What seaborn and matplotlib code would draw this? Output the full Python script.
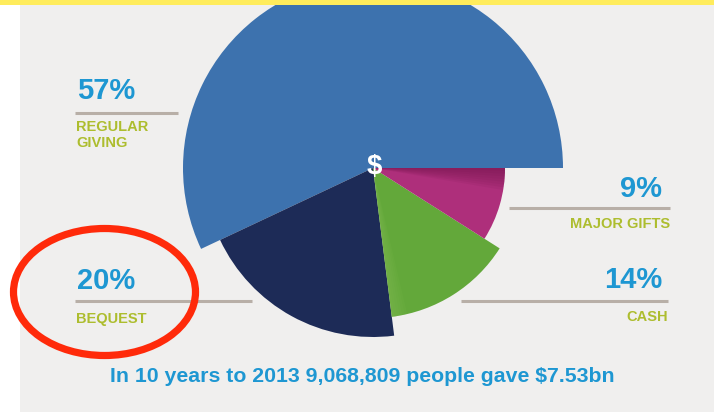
import matplotlib
matplotlib.use("Agg")
import matplotlib.pyplot as plt
from matplotlib.patches import Ellipse, Rectangle, Wedge
import seaborn as sns

# Giving breakdown (percent of total), counter-clockwise from 3 o'clock
categories = ["REGULAR\nGIVING", "BEQUEST", "CASH", "MAJOR GIFTS"]
shares = [57, 20, 14, 9]
share_labels = ["57%", "20%", "14%", "9%"]
headline = "In 10 years to 2013 9,068,809 people gave $7.53bn"

sns.set_theme(style="white")
plt.rcParams["font.family"] = ["Liberation Sans", "DejaVu Sans"]

W, H = 714, 412
BG = "#F0EFEE"
BLUE_TXT = "#1E97D2"
OLIVE = "#ADBD2E"
RULE = "#B8AFA7"
slice_colors = ["#3D72AE", "#1D2B57", "#63A83A", "#AE2F7B"]
slice_radii = [190, 169, 150, 132]

fig = plt.figure(figsize=(W / 100, H / 100), dpi=100)
fig.patch.set_facecolor(BG)
ax = fig.add_axes([0, 0, 1, 1])
ax.set_facecolor(BG)


def Y(y):
    # pixel rows counted from the top
    return H - y


cx, cy = 373, 168
wedges, _ = ax.pie(shares, colors=slice_colors, startangle=0, counterclock=True,
                   center=(cx, Y(cy)), radius=190, frame=True,
                   wedgeprops=dict(linewidth=0))
for w, r in zip(wedges, slice_radii):
    w.set_radius(r)

# soft shading: dark band under the blue slice on the magenta one,
# light sheen along the left edge of the green one
mag, grn = wedges[3], wedges[2]
for k in range(8):
    span = 1.2 * (k + 1)
    ax.add_patch(Wedge(mag.center, mag.r, mag.theta2 - span, mag.theta2,
                       facecolor="#6E1348", edgecolor="none", alpha=0.09, zorder=mag.zorder + 0.1))
for k in range(6):
    span = 1.0 * (k + 1)
    ax.add_patch(Wedge(grn.center, grn.r, grn.theta1, grn.theta1 + span,
                       facecolor="#8CC35A", edgecolor="none", alpha=0.08, zorder=grn.zorder + 0.1))

ax.text(cx + 1, Y(cy - 1), "$", color="white", fontsize=20, fontweight="bold",
        ha="center", va="center", zorder=5)

# Label blocks: (percent x, align, percent baseline, rule y, rule x0, rule x1, name top)
blocks = [
    (77, "left", 99, 113, 75, 178, 120),
    (77, "left", 289, 301, 75, 252, 312),
    (662, "right", 288, 301, 461, 668, 310),
    (662, "right", 197, 208, 509, 670, 217),
]
for (px, ha, base, ry, x0, x1, ny), pct, name in zip(blocks, share_labels, categories):
    ax.text(px, Y(base), pct, color=BLUE_TXT, fontsize=21, fontweight="bold",
            ha=ha, va="baseline")
    ax.plot([x0, x1], [Y(ry), Y(ry)], color=RULE, lw=2.2, solid_capstyle="butt")
    nx = px - 1 if ha == "left" else x1
    ax.text(nx, Y(ny), name, color=OLIVE, fontsize=10.5, fontweight="bold",
            ha=ha, va="top", linespacing=1.15)

ax.text(362, Y(377), headline, color=BLUE_TXT, fontsize=15.3, fontweight="bold",
        ha="center", va="center")

# screen edges
ax.add_patch(Rectangle((0, Y(H)), 20, H, facecolor="white", edgecolor="none", zorder=7))
ax.add_patch(Rectangle((0, Y(5)), W, 5, facecolor="#FFEC5C", edgecolor="none", zorder=8))

# highlight ring
ax.add_patch(Ellipse((104.5, Y(292)), 182, 127, fill=False, edgecolor="#FF2A0A",
                     lw=5.2, zorder=9))

ax.set_xlim(0, W)
ax.set_ylim(0, H)
ax.set_aspect("equal")
ax.axis("off")
fig.savefig("out.png", dpi=100, facecolor=BG)
